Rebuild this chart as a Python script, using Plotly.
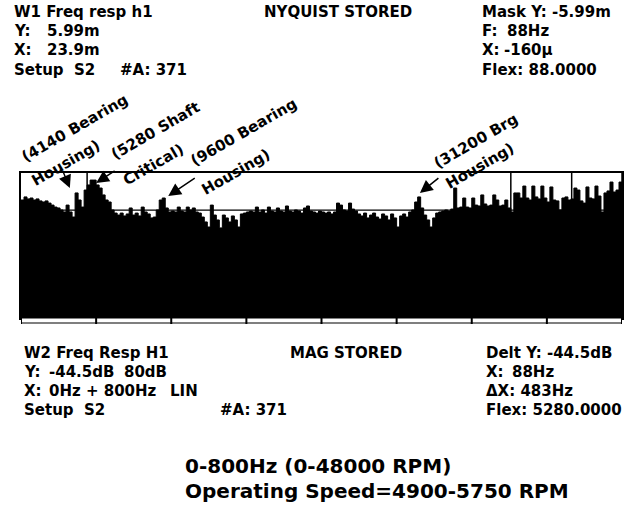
import plotly.graph_objects as go

W, H = 637, 514

# ---------------- data ----------------
freq_hz = list(range(0, 801, 4))  # 4 Hz analyser lines, 0-800 Hz
mag_db = [
    -38.9, -37.2, -38.3, -37.8, -38.9, -38.3, -39.4, -40.0, -39.4, -40.6,
    -41.7, -42.8, -43.3, -44.4, -45.5, -41.7, -45.5, -48.3, -35.0, -38.9,
    -42.8, -33.4, -30.6, -27.9, -27.9, -30.6, -32.3, -36.1, -38.9, -40.0,
    -44.4, -46.1, -47.2, -46.1, -47.7, -46.6, -43.3, -47.2, -46.1, -47.7,
    -42.8, -45.5, -46.6, -48.8, -48.3, -44.4, -38.9, -37.8, -43.3, -45.5,
    -45.0, -45.5, -42.8, -45.0, -45.5, -42.8, -44.4, -43.3, -45.5, -46.1,
    -48.3, -51.0, -53.8, -41.7, -47.2, -49.9, -54.3, -47.2, -48.8, -51.0,
    -47.7, -49.9, -53.8, -46.6, -46.1, -45.5, -45.0, -45.5, -42.8, -45.5,
    -44.4, -46.1, -42.8, -45.0, -45.5, -43.3, -45.0, -45.5, -42.2, -45.0,
    -45.5, -44.4, -45.0, -46.1, -43.3, -42.2, -45.0, -45.5, -46.1, -45.0,
    -45.5, -46.1, -45.5, -46.6, -45.5, -40.6, -41.7, -44.4, -45.0, -40.6,
    -43.9, -45.0, -46.6, -47.7, -46.1, -48.8, -47.2, -46.1, -48.3, -49.4,
    -46.6, -47.7, -49.9, -46.6, -48.8, -53.8, -47.7, -46.6, -48.3, -45.5,
    -44.4, -40.0, -37.2, -43.3, -47.2, -49.9, -53.8, -48.8, -46.1, -45.5,
    -45.0, -44.4, -45.0, -43.9, -32.3, -43.3, -42.8, -37.8, -42.8, -43.3,
    -37.8, -41.7, -42.2, -36.1, -41.1, -42.2, -41.7, -36.1, -38.9, -42.2,
    -41.7, -38.9, -43.3, -45.5, -35.0, -35.0, -37.8, -31.2, -37.8, -38.9,
    -31.2, -37.2, -38.3, -31.2, -37.8, -40.0, -31.7, -38.9, -39.4, -44.4,
    -37.8, -37.2, -38.9, -38.3, -32.3, -33.4, -39.4, -40.6, -31.7, -37.8,
    -38.3, -31.2, -36.7, -45.5, -35.0, -33.9, -29.0, -34.5, -33.4, -29.0,
    -33.4,
]
marker_hz = [88, 652, 733, 800]
cursor_db = -44.5
division_hz = [0, 100, 200, 300, 400, 500, 600, 700, 800]
Y_MIN, Y_MAX = -104, -24
X_MIN, X_MAX = 0, 800

peak_arrows = [  # (head freq, head dB, tail dx px, tail dy px)
    (65, -32.3, -7, -17),
    (100, -29.5, 20, -13),
    (196, -36.7, 28, -19),
    (531, -35.0, 20, -16),
]
peak_labels = [  # (text, centre x px, centre y px)
    ("(4140 Bearing", 75, 128), ("Housing)", 66, 163),
    ("(5280 Shaft", 155, 131), ("Critical)", 153, 165),
    ("(9600 Bearing", 244, 132), ("Housing)", 236, 172),
    ("(31200 Brg", 476, 141), ("Housing)", 480, 166),
]

top_text = [
    (12, 12, "W1 Freq resp h1"), (262, 12, "NYQUIST STORED"), (480, 12, "Mask Y: -5.99m"),
    (12, 31, "Y:"), (45, 31, "5.99m"), (480, 31, "F:"), (505, 31, "88Hz"),
    (12, 50, "X:"), (45, 50, "23.9m"), (480, 50, "X:"), (502, 50, "-160\u00b5"),
    (12, 70, "Setup"), (72, 70, "S2"), (118, 70, "#A: 371"), (480, 70, "Flex: 88.0000"),
]
bottom_text = [
    (22, 353, "W2 Freq Resp H1"), (288, 353, "MAG STORED"), (484, 353, "Delt Y: -44.5dB"),
    (22, 372, "Y:"), (47, 372, "-44.5dB"), (122, 372, "80dB"), (484, 372, "X:"), (510, 372, "88Hz"),
    (22, 391, "X:"), (47, 391, "0Hz + 800Hz"), (168, 391, "LIN"), (484, 391, "\u0394X: 483Hz"),
    (22, 410, "Setup"), (82, 410, "S2"), (218, 410, "#A: 371"), (484, 410, "Flex: 5280.0000"),
]
footer_text = [
    (183, 466, "0-800Hz (0-48000 RPM)"),
    (183, 491, "Operating Speed=4900-5750 RPM"),
]

# ---------------- helpers ----------------
def px(x):
    return x / W

def py(y):
    return 1 - y / H

FONT = "DejaVu Sans"

fig = go.Figure()
fig.add_trace(go.Scatter(x=freq_hz, y=[Y_MIN] * len(freq_hz), mode="lines",
                         line=dict(width=0, color="black"), hoverinfo="skip"))
fig.add_trace(go.Scatter(x=freq_hz, y=mag_db, mode="lines", fill="tonexty",
                         fillcolor="black", line=dict(width=1, color="black", shape="hv")))

shapes = []
for f in marker_hz:
    shapes.append(dict(type="line", xref="x", yref="y domain", x0=f, x1=f, y0=0, y1=1,
                       line=dict(color="black", width=1.5)))
shapes.append(dict(type="line", xref="x domain", yref="y", x0=0, x1=1, y0=cursor_db, y1=cursor_db,
                   line=dict(color="black", width=1.2)))
# bottom division strip
shapes.append(dict(type="rect", xref="x", yref="paper", x0=X_MIN, x1=X_MAX,
                   y0=py(323), y1=py(318), fillcolor="white", line=dict(color="black", width=1.2)))
for f in division_hz:
    shapes.append(dict(type="line", xref="x", yref="paper", x0=f, x1=f, y0=py(324), y1=py(317),
                       line=dict(color="black", width=2)))

annotations = []
for x, y, t in top_text + bottom_text:
    annotations.append(dict(x=px(x), y=py(y), xref="paper", yref="paper", text=t, showarrow=False,
                            xanchor="left", yanchor="middle",
                            font=dict(family=FONT, size=15, color="black", weight="bold")))
for x, y, t in footer_text:
    annotations.append(dict(x=px(x), y=py(y), xref="paper", yref="paper", text=t, showarrow=False,
                            xanchor="left", yanchor="middle",
                            font=dict(family=FONT, size=20, color="black", weight="bold")))
for t, x, y in peak_labels:
    annotations.append(dict(x=px(x), y=py(y), xref="paper", yref="paper", text=t, showarrow=False,
                            xanchor="center", yanchor="middle", textangle=-30,
                            font=dict(family=FONT, size=15, color="black", weight="bold")))
for f, d, ax, ay in peak_arrows:
    annotations.append(dict(x=f, y=d, xref="x", yref="y", text="", showarrow=True,
                            ax=ax, ay=ay, arrowhead=2, arrowsize=1.7, arrowwidth=1.5,
                            arrowcolor="black", standoff=0))

fig.update_layout(
    width=W, height=H, autosize=False,
    margin=dict(l=0, r=0, t=0, b=0),
    paper_bgcolor="white", plot_bgcolor="white",
    showlegend=False,
    xaxis=dict(domain=[px(21), px(622)], range=[X_MIN, X_MAX], showgrid=False, zeroline=False,
               showticklabels=False, ticks="", showline=True, mirror=True,
               linecolor="black", linewidth=1.5),
    yaxis=dict(domain=[py(318), py(173)], range=[Y_MIN, Y_MAX], showgrid=False, zeroline=False,
               showticklabels=False, ticks="", showline=True, mirror=True,
               linecolor="black", linewidth=1.5),
    shapes=shapes,
    annotations=annotations,
)

fig.write_html("out.html", config={"displayModeBar": False},
               post_script="document.body.style.margin='0';")
